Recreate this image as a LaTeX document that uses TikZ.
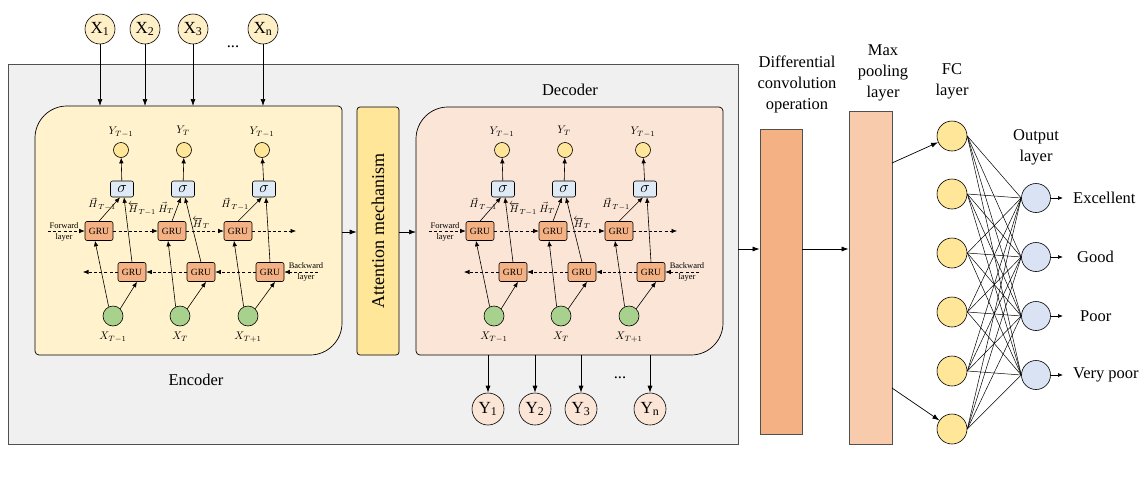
\documentclass[tikz,border=0pt]{standalone}
\usepackage{fix-cm}
\usepackage{fontspec}
\setmainfont{Liberation Serif}
\usetikzlibrary{arrows.meta,calc}
\definecolor{bggrey}{HTML}{F0F0F0}
\definecolor{bordergrey}{HTML}{505050}
\definecolor{encfill}{HTML}{FFF2CC}
\definecolor{decfill}{HTML}{FBE5D6}
\definecolor{attfill}{HTML}{FFE699}
\definecolor{infill}{HTML}{FFEFC6}
\definecolor{convfill}{HTML}{F4B183}
\definecolor{poolfill}{HTML}{F8CBAD}
\definecolor{fcfill}{HTML}{FFE699}
\definecolor{outfill}{HTML}{DAE3F3}
\definecolor{sigfill}{HTML}{DEEBF7}
\definecolor{grufill}{HTML}{F4B183}
\definecolor{greenfill}{HTML}{A9D18E}
\tikzset{
  arr/.style={-{Latex[length=7pt,width=5pt]}, line width=0.7pt},
  sarr/.style={-{Latex[length=5.5pt,width=4.5pt]}, line width=0.6pt},
  darr/.style={sarr, dash pattern=on 3pt off 2.2pt},
  big/.style={font=\fontsize{16.5}{21}\selectfont},
  incirc/.style={circle, draw, line width=0.6pt, fill=infill, minimum size=30pt, inner sep=0pt, font=\fontsize{17}{20}\selectfont},
  outcirc/.style={circle, draw, line width=0.6pt, fill=decfill, minimum size=32pt, inner sep=0pt, font=\fontsize{17}{20}\selectfont},
  ycirc/.style={circle, draw, line width=0.6pt, fill=attfill, minimum size=15pt, inner sep=0pt},
  xcirc/.style={circle, draw, line width=0.6pt, fill=greenfill, minimum size=20pt, inner sep=0pt},
  sig/.style={draw, line width=0.6pt, fill=sigfill, rounded corners=2pt, minimum width=23pt, minimum height=16pt, inner sep=0pt, font=\fontsize{16}{16}\selectfont},
  gru/.style={draw, line width=0.6pt, fill=grufill, rounded corners=2pt, minimum width=28pt, minimum height=19pt, inner sep=0pt, font=\fontsize{9.5}{9.5}\selectfont},
  sublab/.style={inner sep=0pt, font=\fontsize{11}{11}\selectfont},
  hlab/.style={inner sep=0pt, font=\fontsize{10.5}{10.5}\selectfont},
  tinylab/.style={inner sep=0pt, align=center, font=\fontsize{8.5}{11.5}\selectfont},
  fcnode/.style={circle, draw, line width=0.6pt, fill=fcfill, minimum size=30pt, inner sep=0pt},
  onode/.style={circle, draw, line width=0.6pt, fill=outfill, minimum size=29pt, inner sep=0pt},
  panel/.style={draw=bordergrey, line width=0.8pt, fill=bggrey},
  bar/.style={draw=bordergrey, line width=0.8pt, inner sep=0pt},
  lobox/.style={draw, line width=0.7pt},
}
\newcommand{\birnn}[1]{%
  \node[ycirc] (#1y1) at (121,150) {};
  \node[ycirc] (#1y2) at (184,150) {};
  \node[ycirc] (#1y3) at (262,150) {};
  \node[sig] (#1s1) at (122,189) {$\sigma$};
  \node[sig] (#1s2) at (183,189) {$\sigma$};
  \node[sig] (#1s3) at (264,189) {$\sigma$};
  \node[gru] (#1f1) at (99,231) {GRU};
  \node[gru] (#1f2) at (172,231) {GRU};
  \node[gru] (#1f3) at (238,231) {GRU};
  \node[gru] (#1b1) at (132,272) {GRU};
  \node[gru] (#1b2) at (201,272) {GRU};
  \node[gru] (#1b3) at (270,272) {GRU};
  \node[xcirc] (#1x1) at (113,316) {};
  \node[xcirc] (#1x2) at (180,316) {};
  \node[xcirc] (#1x3) at (248,316) {};
  \node[sublab] (#1ly1) at (121,132) {$Y_{T-1}$};
  \node[sublab] (#1ly2) at (183,131) {$Y_{T}$};
  \node[sublab] (#1ly3) at (262,132) {$Y_{T-1}$};
  \node[sublab] (#1lx1) at (113,337) {$X_{T-1}$};
  \node[sublab] (#1lx2) at (180,337) {$X_{T}$};
  \node[sublab] (#1lx3) at (248,337) {$X_{T+1}$};
  \node[hlab] (#1h1) at (102,204) {$\vec{H}_{\,T-1}$};
  \node[hlab] (#1h2) at (142,209) {$\overleftarrow{H}_{T-1}$};
  \node[hlab] (#1h3) at (166,208) {$\vec{H}_{T}$};
  \node[hlab] (#1h4) at (201,223) {$\overleftarrow{H}_{T}$};
  \node[hlab] (#1h5) at (235,204) {$\vec{H}_{\,T-1}$};
  \node[tinylab] (#1fl) at (64,232) {Forward\\layer};
  \node[tinylab] (#1bl) at (306,272) {Backward\\layer};
  \coordinate (#1fin) at (48,231);
  \coordinate (#1fout) at (296,231);
  \coordinate (#1bin) at (318,272);
  \coordinate (#1bout) at (83,272);
  \draw[darr] (#1fin) -- (#1f1);
  \draw[darr] (#1f1) -- (#1f2);
  \draw[darr] (#1f2) -- (#1f3);
  \draw[darr] (#1f3) -- (#1fout);
  \draw[darr] (#1bin) -- (#1b3);
  \draw[darr] (#1b3) -- (#1b2);
  \draw[darr] (#1b2) -- (#1b1);
  \draw[darr] (#1b1) -- (#1bout);
  \foreach \k in {1,2,3} {
    \draw[sarr] (#1x\k.115) -- ($(#1f\k.south)+(-4,0)$);
    \draw[sarr] (#1x\k.45) -- ($(#1b\k.south)+(5,0)$);
    \draw[sarr] (#1f\k.north) -- ($(#1s\k.south)+(-2,0)$);
    \draw[sarr] (#1b\k.north) -- ($(#1s\k.south)+(2,0)$);
    \draw[sarr] (#1s\k) -- (#1y\k);
  }
}
\begin{document}
\begin{tikzpicture}[x=1pt,y=-1pt]
\useasboundingbox (0,0) rectangle (1146,477);
% grey panel
\node[panel, minimum width=730pt, minimum height=380pt, inner sep=0pt] (panel) at (373,254) {};
% encoder box
\draw[lobox, fill=encfill] (35,138) .. controls (35,120.3) and (49.3,106) .. (67,106) -- (338,106) .. controls (340.2,106) and (342,107.8) .. (342,110) -- (342,323) .. controls (342,340.7) and (327.7,355) .. (310,355) -- (39,355) .. controls (36.8,355) and (35,353.2) .. (35,351) -- cycle;
% decoder box
\draw[lobox, fill=decfill] (416,139) .. controls (416,121.3) and (430.3,107) .. (448,107) -- (719,107) .. controls (721.2,107) and (723,108.8) .. (723,111) -- (723,323) .. controls (723,340.7) and (708.7,355) .. (691,355) -- (420,355) .. controls (417.8,355) and (416,353.2) .. (416,351) -- cycle;
\coordinate (enctop) at (0,106);
\coordinate (encR) at (342,232);
\coordinate (decL) at (416,232);
\coordinate (decbot) at (0,355);
% attention
\node[draw, line width=0.7pt, fill=attfill, rounded corners=3pt, minimum width=42pt, minimum height=248pt, inner sep=0pt] (att) at (378,231) {};
\node[rotate=90, font=\fontsize{18}{20}\selectfont] (attlab) at (att.center) {Attention mechanism};
\draw[arr] (encR) -- (att.west |- encR);
\draw[arr] (att.east |- decL) -- (decL);
% titles
\node[big] (enclab) at (196,380) {Encoder};
\node[big] (declab) at (570,90) {Decoder};
% BiGRU units
\birnn{e}
\begin{scope}[xshift=381pt]
\birnn{d}
\end{scope}
% inputs
\node[incirc] (in1) at (100,29) {X\textsubscript{1}};
\node[incirc] (in2) at (145,29) {X\textsubscript{2}};
\node[incirc] (in3) at (193,29) {X\textsubscript{3}};
\node[incirc] (in4) at (263,29) {X\textsubscript{n}};
\node[big] (indots) at (233,47) {...};
\foreach \i in {1,...,4} \draw[arr] (in\i) -- (in\i |- enctop);
% outputs
\node[outcirc] (out1) at (488,409) {Y\textsubscript{1}};
\node[outcirc] (out2) at (535,409) {Y\textsubscript{2}};
\node[outcirc] (out3) at (581,409) {Y\textsubscript{3}};
\node[outcirc] (out4) at (650,409) {Y\textsubscript{n}};
\node[big] (outdots) at (620,378) {...};
\foreach \i in {1,...,4} \draw[arr] (out\i |- decbot) -- (out\i);
% right part
\node[bar, fill=convfill, minimum width=42pt, minimum height=305pt] (conv) at (781,281.5) {};
\node[bar, fill=poolfill, minimum width=43pt, minimum height=333pt] (pool) at (870.5,277.5) {};
\node[big, align=center] (convlab) at (797,84) {Differential\\convolution\\operation};
\node[big, align=center] (poollab) at (883,73) {Max\\pooling\\layer};
\node[big, align=center] (fclab) at (952,81) {FC\\layer};
\node[big, align=center] (olab) at (1036,147) {Output\\layer};
\coordinate (panelR) at (738,249);
\draw[arr] (panelR) -- (conv.west |- panelR);
\draw[arr] (conv.east |- panelR) -- (pool.west |- panelR);
\foreach \i/\y in {1/136,2/194,3/253,4/312,5/371,6/429}
  \node[fcnode] (fc\i) at (952,\y) {};
\foreach \j/\y in {1/198,2/257,3/316,4/375}
  \node[onode] (o\j) at (1036,\y) {};
\coordinate (pt1) at (892,163);
\coordinate (pt2) at (892,388);
\draw[arr] (pt1) -- (fc1);
\draw[arr] (pt2) -- (fc6);
\foreach \i in {1,...,6}
  \foreach \j in {1,...,4}
    \draw[line width=0.5pt] (fc\i.east) -- (o\j.west);
\foreach \j/\y in {1/198,2/257,3/316,4/375}
  \coordinate (oe\j) at (1063,\y);
\foreach \j in {1,...,4} \draw[-{Latex[length=5pt,width=4pt]}, line width=0.7pt] (o\j) -- (oe\j);
\node[big, anchor=west, inner sep=0pt] (c1) at (1073,198) {Excellent};
\node[big, anchor=west, inner sep=0pt] (c2) at (1077,257) {Good};
\node[big, anchor=west, inner sep=0pt] (c3) at (1080,316) {Poor};
\node[big, anchor=west, inner sep=0pt] (c4) at (1073,375) {Very poor};
\end{tikzpicture}
\end{document}
